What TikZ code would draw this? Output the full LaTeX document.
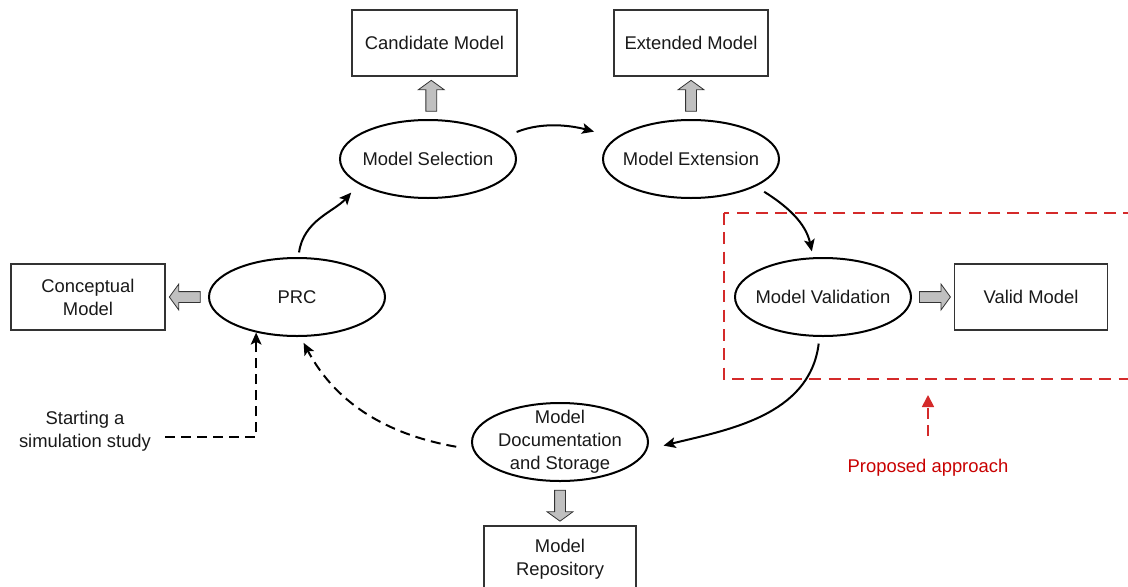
\documentclass[tikz,border=0pt]{standalone}
\usepackage{fontspec}
\setmainfont{Liberation Sans}
\usetikzlibrary{shapes.geometric,shapes.arrows,arrows.meta,calc}
\definecolor{boxline}{HTML}{333333}
\definecolor{blockfill}{HTML}{C0C0C0}
\definecolor{propred}{HTML}{C80000}
\definecolor{framered}{HTML}{D42A2A}

\begin{document}
\begin{tikzpicture}[x=0.75pt,y=-0.75pt,
  every node/.style={font=\fontsize{13.8pt}{17.25pt}\selectfont, text=black!90},
  proc/.style={ellipse, draw, line width=1.5pt, minimum width=132pt,
    minimum height=58.5pt, inner sep=0pt,
    label={[align=center, inner sep=0pt]center:#1}},
  product/.style={rectangle, draw=boxline, line width=0.9pt,
    minimum height=49.5pt, align=center, inner sep=0pt},
  blockarrow/.style={single arrow, draw=boxline, fill=blockfill,
    line width=0.6pt, minimum height=23.25pt, minimum width=18.75pt,
    single arrow head extend=5.6pt, single arrow tip angle=108,
    inner xsep=0pt, inner ysep=3.75pt, rotate=#1},
  flow/.style={line width=1.5pt, -{Stealth[length=9pt,width=8pt,inset=2pt]}},
  dashflow/.style={flow, dash pattern=on 7.5pt off 4.5pt},
  redflow/.style={draw=framered, line width=1.3pt, dash pattern=on 8pt off 5pt,
    -{Triangle[length=9pt,width=9pt]}, color=framered},
  frame/.style={draw=framered, line width=1.1pt, dash pattern=on 9pt off 5.5pt}
]
\useasboundingbox (0,0) rectangle (1128,586);
\clip (0,0) rectangle (1128,586);

% process stages
\node[proc={Model Selection}] (sel) at (428,159) {};
\node[proc={Model Extension}] (ext) at (691,159) {};
\node[proc={PRC}] (prc) at (297,297) {};
\node[proc={Model Validation}] (val) at (823,297) {};
\node[proc={Model\\Documentation\\and Storage}] (doc) at (560,442) {};

% products of the stages
\node[product, minimum width=123.75pt] (cand) at (434.5,43) {Candidate Model};
\node[product, minimum width=115.5pt] (extm) at (691,43) {Extended Model};
\node[product, minimum width=115.5pt] (concept) at (88,297) {Conceptual\\Model};
\node[product, minimum width=114.75pt] (valid) at (1031,297) {Valid Model};
\node[product, minimum width=114pt] (repo) at (560,559) {Model\\Repository};

% block arrows from stages to products
\node[blockarrow=90] (ba1) at ($(sel.north)!0.5!(cand.south)$) {};
\node[blockarrow=90] (ba2) at ($(ext.north)!0.5!(extm.south)$) {};
\node[blockarrow=180] (ba3) at ($(prc.west)!0.5!(concept.east)$) {};
\node[blockarrow=0] (ba4) at ($(val.east)!0.5!(valid.west)$) {};
\node[blockarrow=270] (ba5) at ($(doc.south)!0.5!(repo.north)$) {};

% cycle of stages
\draw[flow, shorten <=11pt, shorten >=17pt] (sel.16) to[out=22, in=165] (ext.164);
\draw[flow, shorten <=3.5pt, shorten >=8.5pt] (prc.88) to[out=82, in=228] (sel.200);
\draw[flow, shorten <=7.5pt, shorten >=4.5pt] (ext.-23) to[out=-32, in=102] (val.104);
\draw[flow, shorten <=5pt, shorten >=12.5pt] (val.265) to[out=-97, in=14] (doc.-5);
\draw[dashflow, shorten <=12.5pt, shorten >=5pt] (doc.185) to[out=170, in=-62] (prc.-85);

% entry point
\node[align=center] (start) at (85,431) {Starting a\\simulation study};
\coordinate (s0) at (165,437);
\draw[dashflow] (s0) -| (prc.221);

% proposed approach
\draw[frame] (724,213) rectangle (1160,379);
\coordinate (frameb) at (928,379);
\node[text=propred] (prop) at (928,468) {Proposed approach};
\draw[redflow, shorten <=14pt, shorten >=12pt] (prop.north) -- (frameb);
\end{tikzpicture}
\end{document}
